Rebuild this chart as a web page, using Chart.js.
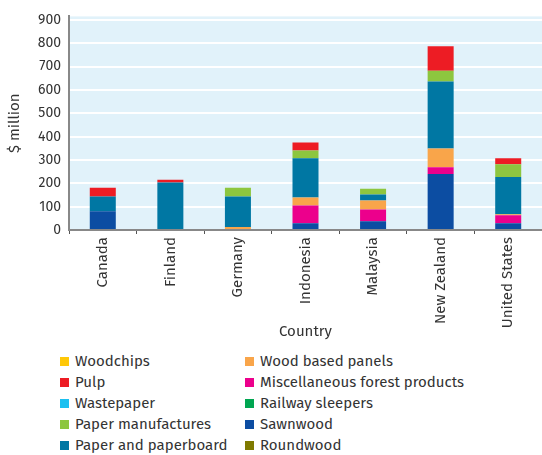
<!DOCTYPE html>
<html>
<head>
<meta charset="utf-8">
<script src="https://cdn.jsdelivr.net/npm/chart.js@4"></script>
<style>
  html, body { margin: 0; padding: 0; background: #fff; }
  #wrap { position: relative; width: 542px; height: 455px; font-family: "Fira Sans", "Open Sans", "Noto Sans", sans-serif; }
  #chartBox { position: absolute; left: 0; top: 0; width: 542px; height: 341px; }
  #legend { position: absolute; left: 0; top: 351px; width: 542px; height: 104px; }
  .item { position: absolute; height: 21px; line-height: 21px; font-size: 15px; color: #333; white-space: nowrap; }
  .sw { display: inline-block; width: 9px; height: 9px; margin-right: 6px; vertical-align: 0px; }
</style>
</head>
<body>
<div id="wrap">
  <div id="chartBox"><canvas id="c"></canvas></div>
  <div id="legend"></div>
</div>
<script>
// ---- data ----
const categories = ["Canada", "Finland", "Germany", "Indonesia", "Malaysia", "New Zealand", "United States"];

const woodchips           = [0, 0, 0, 0, 0, 0, 0];
const pulp                = [37, 12, 0, 34, 0, 105, 25];
const wastepaper          = [0, 0, 0, 0, 0, 0, 0];
const paperManufactures   = [0, 0, 38, 34, 25, 46, 55];
const paperAndPaperboard  = [64, 199, 130, 168, 26, 287, 160];
const woodBasedPanels     = [0, 0, 13, 34, 38, 80, 4];
const miscForestProducts  = [0, 0, 0, 76, 50, 29, 34];
const railwaySleepers     = [0, 0, 0, 0, 0, 0, 0];
const sawnwood            = [80, 4, 0, 29, 38, 240, 29];
const roundwood           = [0, 0, 0, 0, 0, 0, 0];

const yTicks = [0, 100, 200, 300, 400, 500, 600, 700, 800, 900];

// legend order (column-major, two columns)
const legendNames = ["Woodchips", "Pulp", "Wastepaper", "Paper manufactures", "Paper and paperboard",
                     "Wood based panels", "Miscellaneous forest products", "Railway sleepers", "Sawnwood", "Roundwood"];
const legendValues = [woodchips, pulp, wastepaper, paperManufactures, paperAndPaperboard,
                      woodBasedPanels, miscForestProducts, railwaySleepers, sawnwood, roundwood];
const legendColors = ["#FFC808", "#ED1C24", "#1CC0F0", "#8DC63F", "#0077A3",
                      "#F9A54A", "#EC008C", "#00A651", "#0C4DA2", "#7F7A00"];

// stacking order: bottom to top = reverse of legend order
const datasets = [];
for (let i = legendNames.length - 1; i >= 0; i--) {
  datasets.push({
    label: legendNames[i],
    data: legendValues[i],
    backgroundColor: legendColors[i],
    borderWidth: 0,
    categoryPercentage: 1.0,
    barPercentage: 0.385
  });
}

// legend
const leg = document.getElementById('legend');
legendNames.forEach((n, i) => {
  const col = Math.floor(i / 5), row = i % 5;
  const d = document.createElement('div');
  d.className = 'item';
  d.style.left = (col === 0 ? 60 : 245) + 'px';
  d.style.top = (row * 21) + 'px';
  d.innerHTML = '<span class="sw" style="background:' + legendColors[i] + '"></span>' + n;
  leg.appendChild(d);
});

const bgPlugin = {
  id: 'plotBg',
  beforeDraw(chart) {
    const a = chart.chartArea, ctx = chart.ctx;
    ctx.save();
    ctx.fillStyle = '#E1F2FA';
    ctx.fillRect(a.left, a.top, a.right - a.left, a.bottom - a.top);
    ctx.restore();
  }
};

const fam = '"Fira Sans", "Open Sans", "Noto Sans", sans-serif';

new Chart(document.getElementById('c'), {
  type: 'bar',
  data: { labels: categories, datasets: datasets },
  plugins: [bgPlugin],
  options: {
    responsive: true,
    maintainAspectRatio: false,
    animation: false,
    layout: { padding: { top: 12, right: 0, left: 0, bottom: 0 } },
    plugins: { legend: { display: false }, tooltip: { enabled: false } },
    scales: {
      x: {
        stacked: true,
        offset: true,
        afterFit(scale) { scale.height = 111; },
        grid: { display: true, drawOnChartArea: false, offset: true, color: '#555', tickLength: 4, lineWidth: 1 },
        border: { display: true, color: '#888', width: 2 },
        ticks: { color: '#333', font: { family: fam, size: 15 }, maxRotation: 90, minRotation: 90, padding: 3 },
        title: { display: true, text: 'Country', color: '#333', font: { family: fam, size: 15 }, padding: { top: 0, bottom: 0 } }
      },
      y: {
        stacked: true,
        min: 0,
        max: 915,
        afterFit(scale) { scale.width = 69; },
        afterBuildTicks(scale) { scale.ticks = yTicks.map(v => ({ value: v })); },
        grid: { color: '#FFFFFF', lineWidth: 2, drawTicks: false },
        border: { display: true, color: '#888', width: 2 },
        ticks: { color: '#333', font: { family: fam, size: 14 }, padding: 8 },
        title: { display: true, text: '$ million', color: '#333', font: { family: fam, size: 15 }, padding: { top: 6, bottom: 6 } }
      }
    }
  }
});
</script>
</body>
</html>
